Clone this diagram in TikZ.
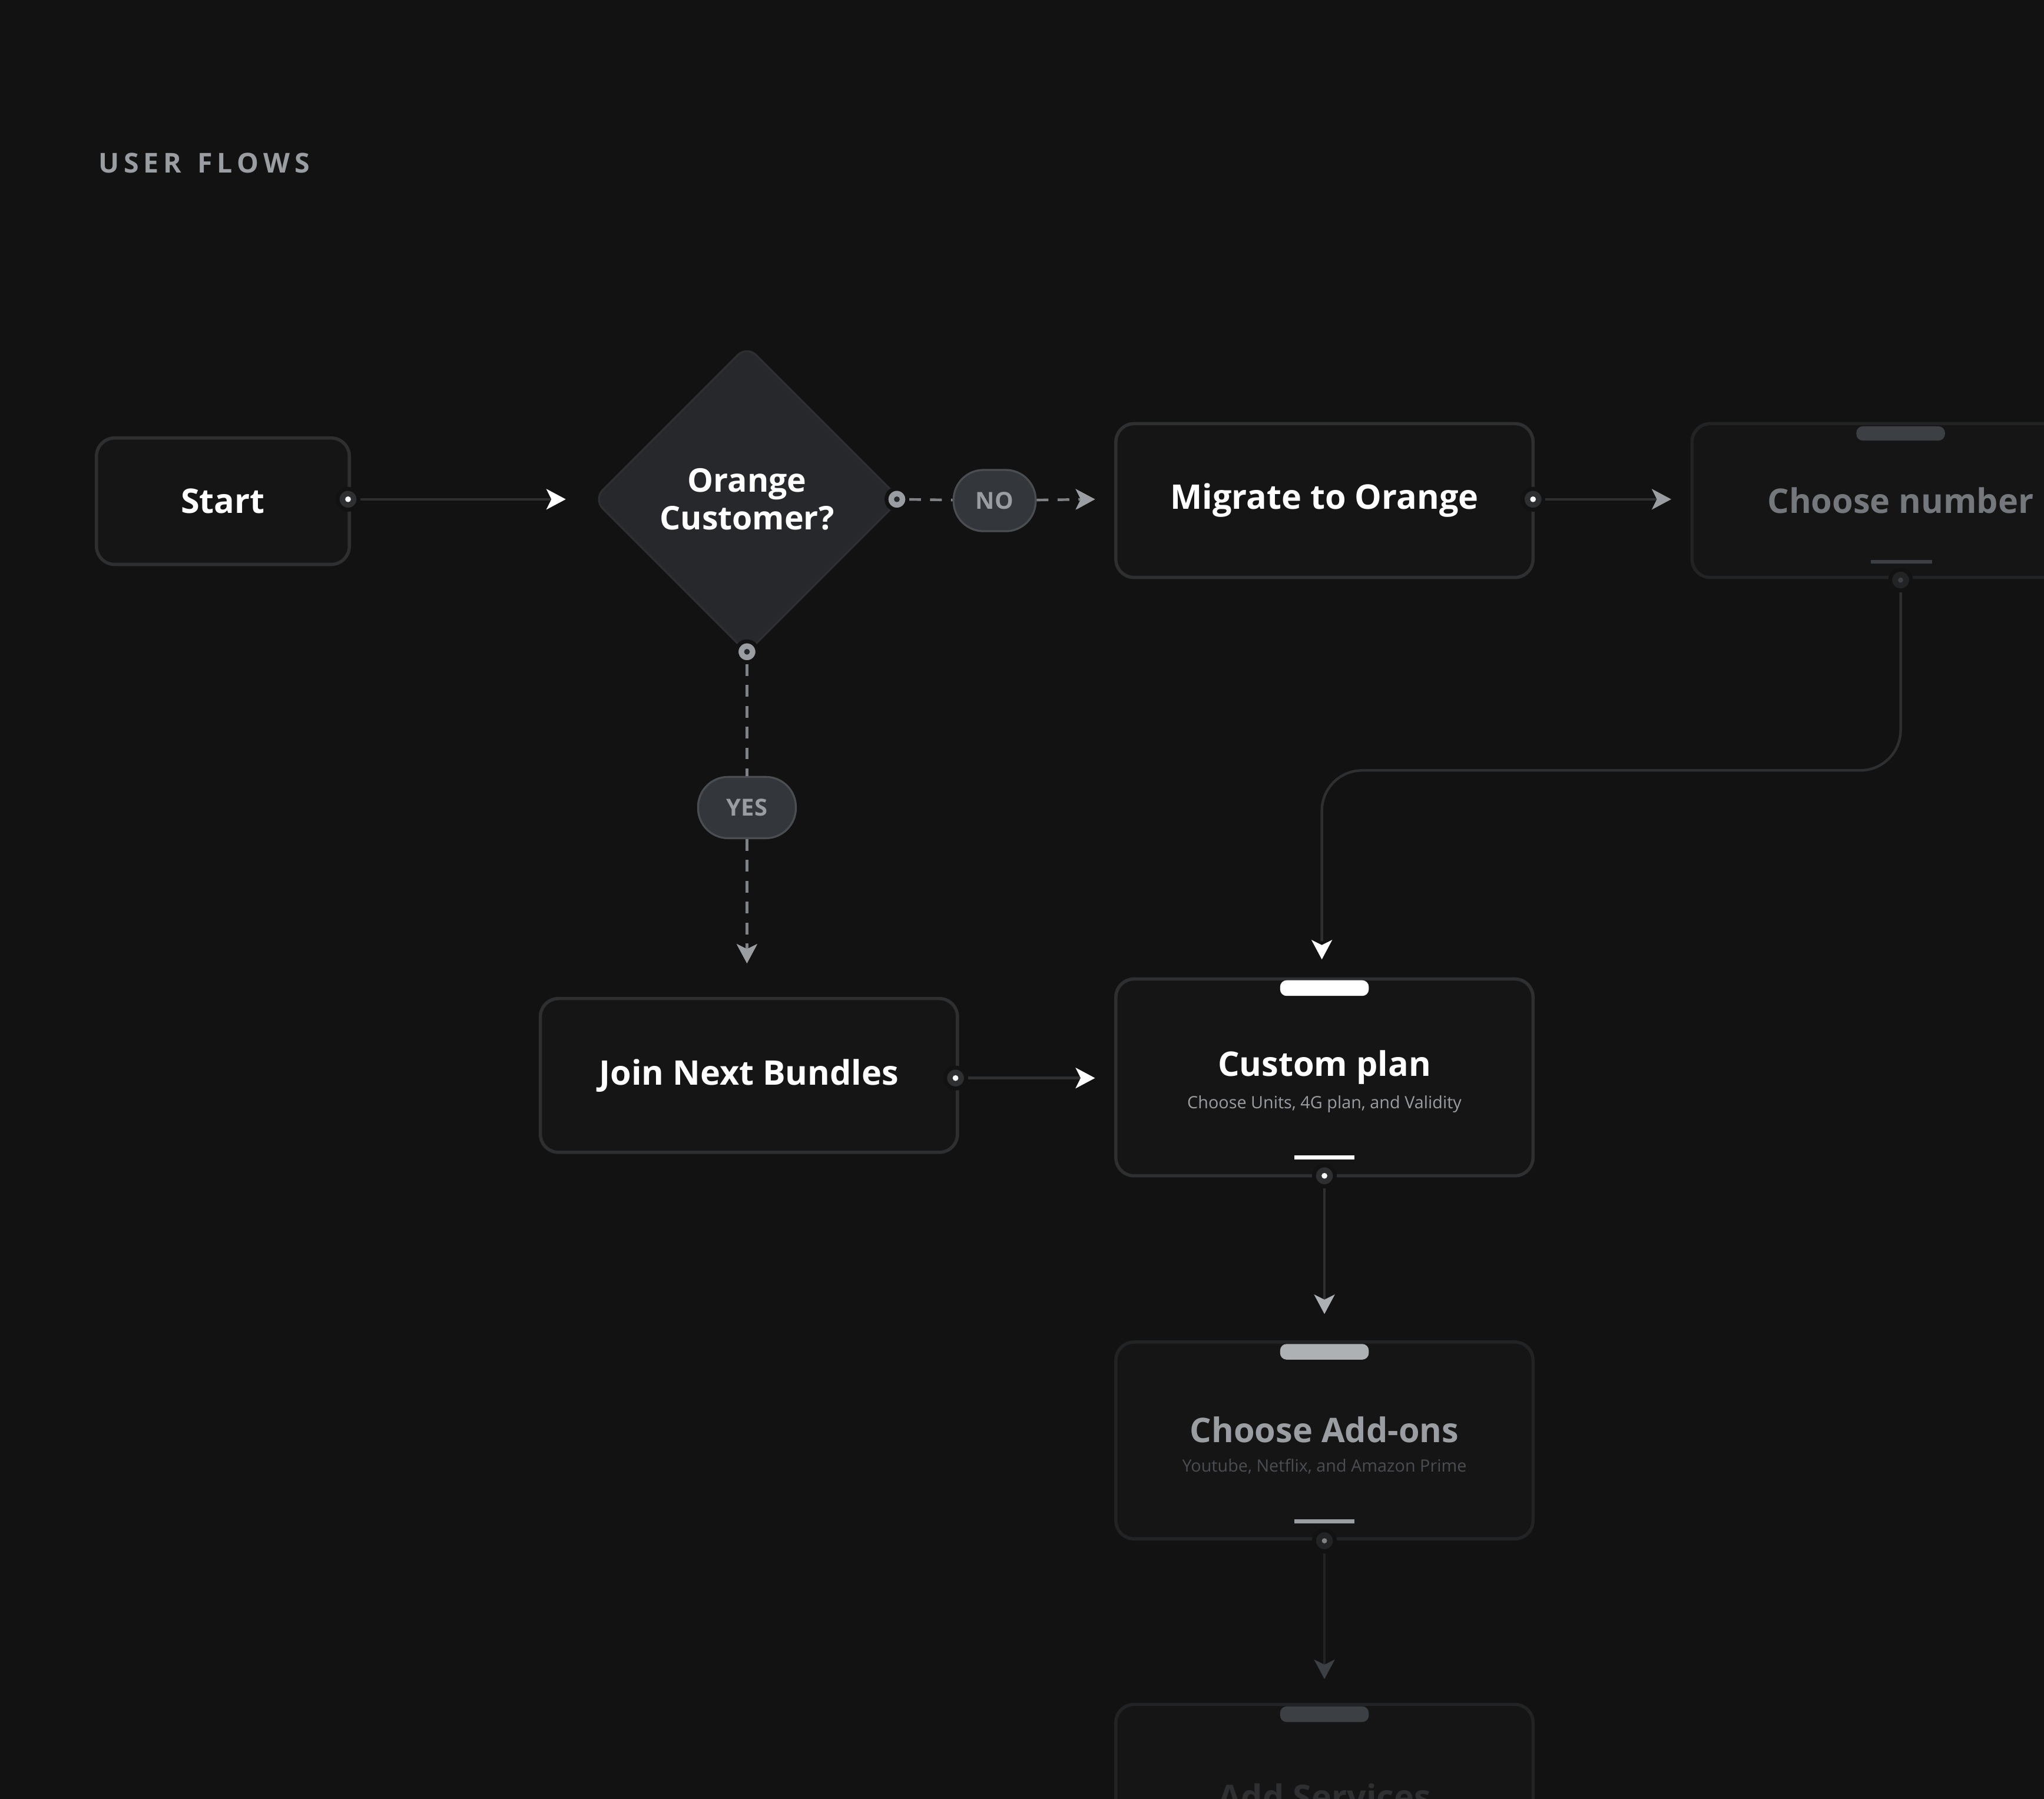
\documentclass[tikz,border=0pt]{standalone}
\usepackage{fontspec}
\setmainfont{Open Sans}
\usetikzlibrary{shapes.geometric,arrows.meta}
\definecolor{bg}{HTML}{121212}
\definecolor{boxfill}{HTML}{151515}
\definecolor{boxline}{HTML}{2E2F31}
\definecolor{faintline}{HTML}{222325}
\definecolor{dia}{HTML}{26282B}
\definecolor{pill}{HTML}{33363A}
\definecolor{pillline}{HTML}{4A4D52}
\definecolor{gr}{HTML}{9A9DA1}
\definecolor{dashc}{HTML}{7E8185}
\definecolor{dk}{HTML}{3C3F44}
\definecolor{sub}{HTML}{4A4D52}
\definecolor{fadetext}{HTML}{74777B}
\tikzset{
  flowbox/.style={draw=boxline,line width=2.5pt,fill=boxfill,rounded corners=14pt,minimum width=320pt,minimum height=118pt,font=\bfseries\fontsize{26}{30}\selectfont,text=white,align=center},
  dotnode/.style={circle,fill=#1,draw=bg,line width=3pt,inner sep=0pt,minimum size=16pt},
  pillnode/.style={draw=pillline,line width=1.5pt,fill=pill,rounded corners=23pt,minimum height=47pt,font=\bfseries\fontsize{18}{20}\selectfont,text=gr},
  conn/.style={line width=2pt,draw=#1,-{Stealth[length=14pt,width=15pt,inset=4pt]}},
  dconn/.style={conn=#1,dash pattern=on 9pt off 7pt},
}
\begin{document}
\begin{tikzpicture}[x=1pt,y=-1pt]
\clip (0,0) rectangle (1568,1380);
\fill[bg] (0,0) rectangle (1568,1380);
\node[anchor=west,text=gr,font=\bfseries\fontsize{21}{24}\selectfont] (title) at (72,125) {U\,S\,E\,R\,\ \,F\,L\,O\,W\,S};

% Start
\node[flowbox,minimum width=194pt,minimum height=97pt] (start) at (171,384.5) {Start};
\node[dotnode=boxline] (sdot) at (267,383) {};
\fill[white] (sdot) circle (2.2pt);
\coordinate (sa) at (434,383);
\draw[conn=boxline] (sdot) -- (sa);
\fill[white] (434,383) -- (419,375) -- (423,383) -- (419,391) -- cycle;

% Diamond
\node[diamond,fill=dia,draw=boxline,line width=1.5pt,minimum width=236pt,minimum height=236pt,rounded corners=10pt,inner sep=0pt] (q) at (573,383) {};
\node[text=white,font=\bfseries\fontsize{25}{29}\selectfont,align=center] (qt) at (573,383) {Orange\\Customer?};

% NO branch
\node[dotnode=gr] (ndot) at (688,383) {};
\fill[dia] (ndot) circle (2.2pt);
\node[pillnode,minimum width=63pt] (no) at (763,384) {NO};
\coordinate (na) at (840,383);
\draw[line width=2pt,draw=dashc,dash pattern=on 9pt off 7pt] (ndot) -- (no);
\draw[dconn=dashc] (no) -- (na);
\fill[gr] (840,383) -- (825,375) -- (829,383) -- (825,391) -- cycle;

% Migrate
\node[flowbox] (mig) at (1016,384) {Migrate to Orange};
\node[dotnode=boxline] (mdot) at (1176,383) {};
\fill[white] (mdot) circle (2.2pt);
\coordinate (ma) at (1282,383);
\draw[conn=boxline] (mdot) -- (ma);
\fill[gr] (1282,383) -- (1267,375) -- (1271,383) -- (1267,391) -- cycle;

% Choose number
\node[flowbox,draw=faintline,text=fadetext] (cn) at (1458,384) {Choose number};
\fill[dk,rounded corners=5pt] (1424,327) -- (1424,338) -- (1492,338) -- (1492,327) -- cycle;
\fill[dk] (1435,429.5) rectangle (1482,432.5);
\node[dotnode=faintline] (cdot) at (1458,445) {};
\fill[dk] (cdot) circle (2pt);

% Custom plan
\node[flowbox,minimum height=151pt] (cp) at (1016,826.5) {};
\node[text=white,font=\bfseries\fontsize{26}{30}\selectfont] (cpt) at (1016,819) {Custom plan};
\node[text=gr,font=\fontsize{13}{15}\selectfont] (cps) at (1016,847) {Choose Units, 4G plan, and Validity};
\fill[white,rounded corners=5pt] (982,752) -- (982,764) -- (1050,764) -- (1050,752) -- cycle;
\fill[white] (993,886.5) rectangle (1039,889.5);
\node[dotnode=boxline] (pdot) at (1016,902) {};
\fill[white] (pdot) circle (2.2pt);

\coordinate (cpa) at (1014,736);
\draw[line width=2pt,draw=boxline] (cdot) -- (1458,560) to[out=270,in=0] (1427,591) -- (1045,591) to[out=180,in=90] (1014,622) -- (1014,722);
\fill[white] (1014,736) -- (1006,721) -- (1014,725) -- (1022,721) -- cycle;

% YES branch
\node[dotnode=gr] (ydot) at (573,500) {};
\fill[dia] (ydot) circle (2.2pt);
\node[pillnode,minimum width=75pt] (yes) at (573,619.5) {YES};
\coordinate (ya) at (573,739);
\draw[line width=2pt,draw=dashc,dash pattern=on 9pt off 7pt] (ydot) -- (yes);
\draw[dconn=dashc] (yes) -- (ya);
\fill[gr] (573,739) -- (565,724) -- (573,728) -- (581,724) -- cycle;

% Join
\node[flowbox] (join) at (574.5,825) {Join Next Bundles};
\node[dotnode=boxline] (jdot) at (733,827) {};
\fill[white] (jdot) circle (2.2pt);
\coordinate (ja) at (840,827);
\draw[conn=boxline] (jdot) -- (ja);
\fill[white] (840,827) -- (825,819) -- (829,827) -- (825,835) -- cycle;

% plan -> add-ons
\coordinate (pa) at (1016,1008);
\draw[conn=boxline] (pdot) -- (pa);
\fill[gr!80!white] (1016,1008) -- (1008,993) -- (1016,997) -- (1024,993) -- cycle;

% Choose Add-ons
\node[flowbox,minimum height=151pt,draw=faintline] (ao) at (1016,1105) {};
\node[text=gr,font=\bfseries\fontsize{26}{30}\selectfont] (aot) at (1016,1097) {Choose Add-ons};
\node[text=sub,font=\fontsize{13}{15}\selectfont] (aos) at (1016,1125) {Youtube, Netflix, and Amazon Prime};
\fill[gr!80!white,rounded corners=5pt] (982,1031) -- (982,1043) -- (1050,1043) -- (1050,1031) -- cycle;
\fill[gr] (993,1165.5) rectangle (1039,1168.5);
\node[dotnode=faintline] (adot) at (1016,1182) {};
\fill[dashc] (adot) circle (2pt);
\coordinate (aa) at (1016,1288);
\draw[conn=faintline] (adot) -- (aa);
\fill[dk] (1016,1288) -- (1008,1273) -- (1016,1277) -- (1024,1273) -- cycle;

% Add Services
\node[flowbox,minimum height=151pt,draw=faintline] (as) at (1016,1383) {};
\fill[dk,rounded corners=5pt] (982,1309) -- (982,1321) -- (1050,1321) -- (1050,1309) -- cycle;
\node[text=boxline,font=\bfseries\fontsize{26}{30}\selectfont] (ast) at (1016,1378) {Add Services};
\end{tikzpicture}
\end{document}
